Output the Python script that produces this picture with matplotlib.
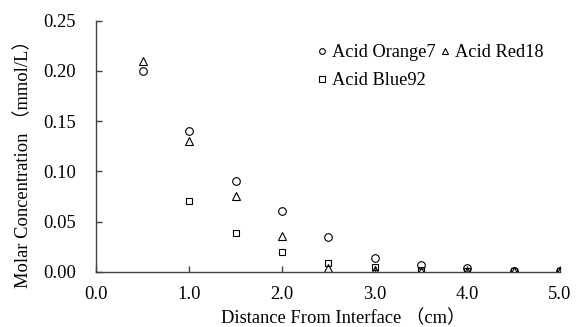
import matplotlib
matplotlib.use("Agg")
import matplotlib.pyplot as plt

distance = [0.5, 1.0, 1.5, 2.0, 2.5, 3.0, 3.5, 4.0, 4.5, 5.0]
orange7 = [0.200, 0.140, 0.090, 0.060, 0.035, 0.014, 0.007, 0.004, 0.001, 0.0005]
red18 = [0.210, 0.130, 0.075, 0.036, 0.004, 0.002, 0.001, 0.001, 0.0005, 0.0005]
blue_x = [1.0, 1.5, 2.0, 2.5, 3.0, 3.5, 4.0, 4.5, 5.0]
blue92 = [0.070, 0.039, 0.020, 0.009, 0.005, 0.002, 0.001, 0.0005, 0.0005]

xticks = [0.0, 1.0, 2.0, 3.0, 4.0, 5.0]
yticks = [0.00, 0.05, 0.10, 0.15, 0.20, 0.25]

fam = ['Liberation Serif', 'Noto Sans CJK SC']
plt.rcParams['font.family'] = fam
plt.rcParams['font.size'] = 12

fig = plt.figure(figsize=(5.76, 3.27), dpi=100)
ax = fig.add_axes([0.1675, 0.169, 0.8047, 0.768])

mk = dict(linestyle='none', markerfacecolor='none', markeredgecolor='black',
          markeredgewidth=0.8, markersize=5.5)
l1, = ax.plot(distance, orange7, marker='o', label='Acid Orange7', **mk)
l2, = ax.plot(distance, red18, marker='^', label='Acid Red18', **mk)
l3, = ax.plot(blue_x, blue92, marker='s', label='Acid Blue92', **dict(mk, markersize=5))

ax.set_xlim(0, 5.0)
ax.set_ylim(0, 0.25)
ax.set_xticks(xticks)
ax.set_yticks(yticks)
ax.set_xticklabels([f'{v:.1f}' for v in xticks])
ax.set_yticklabels([f'{v:.2f}' for v in yticks])

for s in ['top', 'right']:
    ax.spines[s].set_visible(False)
for s in ['left', 'bottom']:
    ax.spines[s].set_color('#404040')
    ax.spines[s].set_linewidth(1.0)

ax.tick_params(axis='both', direction='in', length=4, width=1.0, color='#404040',
               labelsize=13.3)
ax.tick_params(axis='y', pad=15)
ax.tick_params(axis='x', pad=10)

ax.set_xlabel('Distance From Interface （cm）', fontsize=13.3)
ax.set_ylabel('Molar Concentration （mmol/L）', fontsize=13.3)
ax.xaxis.set_label_coords(0.532, -0.186)
ax.xaxis.label.set_va('center')
ax.yaxis.set_label_coords(-0.1586, 0.445)
ax.yaxis.label.set_va('center')
ax.yaxis.label.set_ha('center')

ax.legend(handles=[l1, l3, l2], ncol=2, frameon=False, loc='upper left',
          bbox_to_anchor=(316.5 / 576, 1 - 44 / 327), bbox_transform=fig.transFigure,
          borderpad=0, borderaxespad=0,
          fontsize=13.2, handlelength=0.6,
          handletextpad=0.25, columnspacing=0.2, labelspacing=0.62,
          markerscale=0.75)

fig.savefig('out.png', dpi=100)
